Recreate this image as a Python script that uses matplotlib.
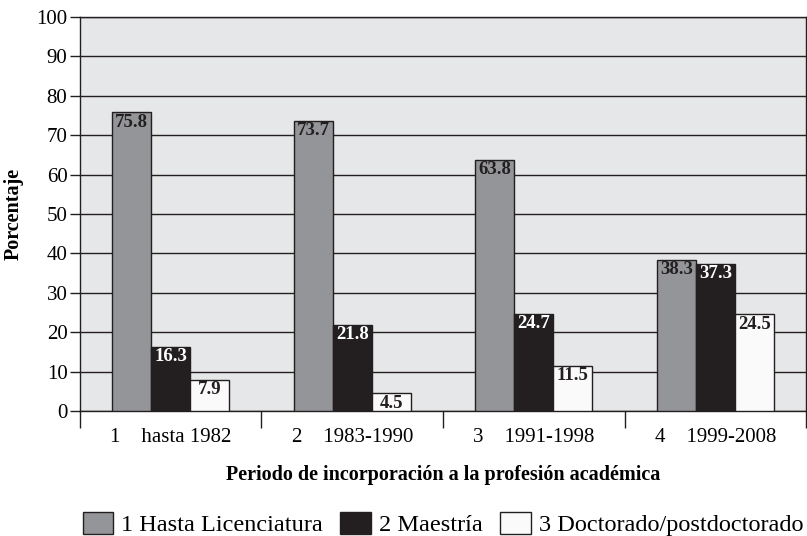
import numpy as np
import matplotlib.pyplot as plt
from matplotlib.ticker import FixedLocator

plt.rcParams['font.family'] = ['Liberation Serif', 'DejaVu Serif']

periods = ['1    hasta 1982', '2    1983-1990', '3    1991-1998', '4    1999-2008']
series = ['1 Hasta Licenciatura', '2 Maestría', '3 Doctorado/postdoctorado']
licenciatura = [75.8, 73.7, 63.8, 38.3]
maestria = [16.3, 21.8, 24.7, 37.3]
doctorado = [7.9, 4.5, 11.5, 24.5]

colors = ['#939598', '#231f20', '#fafafa']
text_colors = ['#231f20', 'white', '#231f20']

fig = plt.figure(figsize=(8.07, 5.36), dpi=100)
ax = fig.add_axes([0.0991, 0.2332, 0.8997, 0.7351])
ax.set_facecolor('#e6e7e8')

x = np.arange(len(periods))
w = 0.215
for i, (vals, c, tc) in enumerate(zip([licenciatura, maestria, doctorado], colors, text_colors)):
    bars = ax.bar(x + (i - 1) * w, vals, w, color=c, edgecolor='#231f20',
                  linewidth=1.0, label=series[i], zorder=3)
    for b, v in zip(bars, vals):
        ax.annotate('%.1f' % v, (b.get_x() + b.get_width() / 2, v),
                    xytext=(0, -1), textcoords='offset points',
                    ha='center', va='top', fontsize=13.5, fontweight='bold',
                    color=tc, zorder=4)

ax.set_ylim(0, 100)
ax.set_xlim(-0.5, 3.5)
ax.set_yticks(range(0, 101, 10))
ax.yaxis.grid(True, color='#231f20', linewidth=1.0, zorder=1)
ax.set_xticks(x)
ax.set_xticklabels(periods)
ax.xaxis.set_minor_locator(FixedLocator([-0.5, 0.5, 1.5, 2.5, 3.5]))
ax.tick_params(axis='x', which='major', length=0, pad=12, labelsize=15)
ax.tick_params(axis='x', which='minor', length=12, width=1.0, color='#231f20')
ax.tick_params(axis='y', length=7, width=1.0, labelsize=15, color='#231f20', pad=2)
for s in ax.spines.values():
    s.set_color('#231f20')
    s.set_linewidth(1.0)

ax.set_ylabel('Porcentaje', fontsize=14.5, fontweight='bold', labelpad=9)
ax.set_xlabel('Periodo de incorporación a la profesión académica',
              fontsize=14.5, fontweight='bold', labelpad=13)

fig.legend(loc='center', bbox_to_anchor=(0.549, 0.022), ncol=3, frameon=False,
           fontsize=17.5, handlelength=1.25, handleheight=1.0, columnspacing=0.72,
           handletextpad=0.34, borderpad=0, borderaxespad=0)

fig.savefig('out.png', dpi=100)
